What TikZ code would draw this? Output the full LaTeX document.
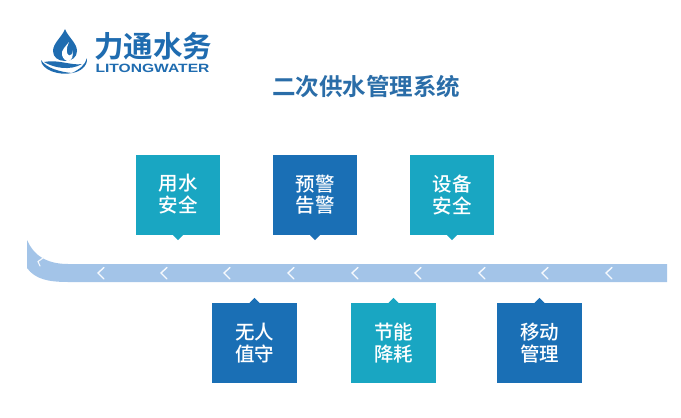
\documentclass[tikz,border=0pt]{standalone}
\usepackage{fontspec}
\setmainfont{Liberation Sans}
\newfontfamily\cjk{Noto Sans CJK SC Medium}
\newfontfamily\cjkb{Noto Sans CJK SC Bold}
\definecolor{teal1}{HTML}{19A6C2}
\definecolor{blue1}{HTML}{1A6FB5}
\definecolor{band}{HTML}{A3C4E8}
\definecolor{logo}{HTML}{1F6CB0}
\definecolor{titlec}{HTML}{2A6DA8}
\newcommand\cardlines[3]{\raisebox{#1}{#2}\\\raisebox{#1}{#3}}
\tikzset{
  card/.style={minimum width=84.5pt,minimum height=80pt,inner sep=0pt,align=center,text=white,font=\cjk\fontsize{19.5}{21.5}\selectfont},
  tealcard/.style={card,fill=teal1},
  bluecard/.style={card,fill=blue1},
  chev/.style={draw=white!90!band,line width=1.4pt,line cap=round,line join=miter}
}
\begin{document}
\begin{tikzpicture}[x=1pt,y=-1pt]
\useasboundingbox (0,0) rectangle (681,418);
\fill[white] (0,0) rectangle (681,418);
% band
\fill[band] (27,240) .. controls (33,254) and (45,264) .. (68,264) -- (667,264) -- (667,282) -- (68,282) .. controls (48,282) and (35,279) .. (27,268) -- cycle;
% chevrons
\foreach \x in {104,167,230,294,358,421,485,548,612}
  \draw[chev] (\x,267.5) -- (\x-6,273) -- (\x,279);
\draw[chev,line width=1.1pt] (43,258) -- (38,261.5) -- (40,266);
% cards top
\node[tealcard] (c1) at (178,195) {\cardlines{3pt}{用水}{安全}};
\node[bluecard] (c2) at (315,195) {\cardlines{3pt}{预警}{告警}};
\node[tealcard] (c3) at (452,195) {\cardlines{0.5pt}{设备}{安全}};
\fill[teal1] ([xshift=-5pt]c1.south) -- ([yshift=-5pt]c1.south) -- ([xshift=5pt]c1.south) -- cycle;
\fill[blue1] ([xshift=-5pt]c2.south) -- ([yshift=-5pt]c2.south) -- ([xshift=5pt]c2.south) -- cycle;
\fill[teal1] ([xshift=-5pt]c3.south) -- ([yshift=-5pt]c3.south) -- ([xshift=5pt]c3.south) -- cycle;
% cards bottom
\node[bluecard] (d1) at (254.5,343) {\cardlines{-0.5pt}{无人}{值守}};
\node[tealcard] (d2) at (393.5,343) {\cardlines{1pt}{节能}{降耗}};
\node[bluecard] (d3) at (539.5,343) {\cardlines{1pt}{移动}{管理}};
\fill[blue1] ([xshift=-5pt]d1.north) -- ([yshift=5pt]d1.north) -- ([xshift=5pt]d1.north) -- cycle;
\fill[teal1] ([xshift=-5pt]d2.north) -- ([yshift=5pt]d2.north) -- ([xshift=5pt]d2.north) -- cycle;
\fill[blue1] ([xshift=-5pt]d3.north) -- ([yshift=5pt]d3.north) -- ([xshift=5pt]d3.north) -- cycle;
% title
\node[text=titlec,font=\cjkb\fontsize{23.5}{28}\selectfont,inner sep=0pt] (title) at (366,87) {二次供水管理系统};
% logo
\fill[logo] (65,29) .. controls (62,37) and (53,43) .. (53,51) .. controls (53,57) and (58,61) .. (65,61) .. controls (72,61) and (77,57) .. (77,51) .. controls (77,43) and (68,37) .. (65,29) -- cycle;
\fill[white] (69,42) .. controls (66,46) and (61,50) .. (62,55) .. controls (63,59) and (66,61) .. (68,61.5) .. controls (72,60) and (74,56) .. (72,50) .. controls (73,54) and (71,56) .. (69,55.5) .. controls (66,54) and (66,48) .. (69,42) -- cycle;
\fill[logo] (41,60) .. controls (41,70) and (60,76) .. (72,73) .. controls (60,72) and (46,68) .. (41,60) -- cycle;
\fill[logo] (44,62) .. controls (54,68) and (70,71) .. (82,64) .. controls (72,66) and (58,59) .. (44,62) -- cycle;
\fill[logo] (72,73) .. controls (80,72) and (88,66) .. (87,58) .. controls (85,65) and (80,69) .. (72,73) -- cycle;
\node[text=logo,font=\cjkb\fontsize{29.5}{32}\selectfont,inner sep=0pt] (cn) at (153,46) {力通水务};
\node[text=logo,font=\bfseries\fontsize{12}{13}\selectfont,inner sep=0pt,xscale=1.3] (en) at (152.5,68) {LITONGWATER};
\end{tikzpicture}
\end{document}
